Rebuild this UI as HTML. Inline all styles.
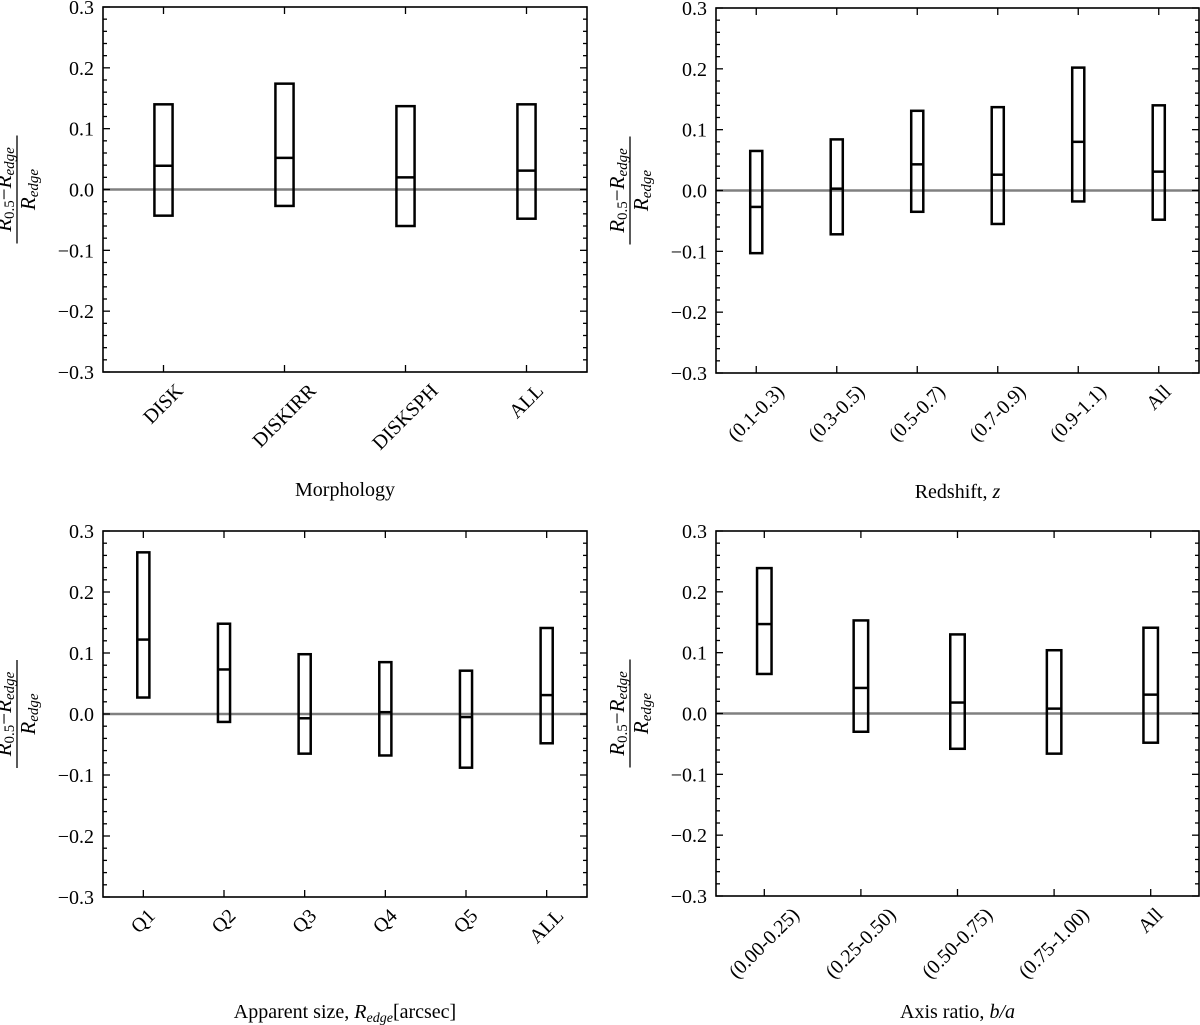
<!DOCTYPE html>
<html><head><meta charset="utf-8"><style>
html,body{margin:0;padding:0;background:#fff}
svg{display:block}
text{font-family:"Liberation Serif","DejaVu Serif",serif;fill:#000}
</style></head><body>
<svg id="fig" width="1200" height="1025" viewBox="0 0 1200 1025" xmlns="http://www.w3.org/2000/svg"></svg>
<script>
// Panel 1: Morphology
const morphCats = ["DISK","DISKIRR","DISKSPH","ALL"];
const morphTop = [0.140,0.174,0.137,0.140];
const morphMed = [0.039,0.052,0.020,0.031];
const morphBot = [-0.043,-0.027,-0.060,-0.048];
// Panel 2: Redshift
const zCats = ["(0.1-0.3)","(0.3-0.5)","(0.5-0.7)","(0.7-0.9)","(0.9-1.1)","All"];
const zTop = [0.065,0.084,0.131,0.137,0.202,0.140];
const zMed = [-0.027,0.003,0.043,0.026,0.080,0.031];
const zBot = [-0.103,-0.072,-0.035,-0.055,-0.018,-0.048];
// Panel 3: Apparent size
const sizeCats = ["Q1","Q2","Q3","Q4","Q5","ALL"];
const sizeTop = [0.265,0.148,0.098,0.085,0.071,0.141];
const sizeMed = [0.122,0.073,-0.007,0.003,-0.005,0.031];
const sizeBot = [0.027,-0.013,-0.065,-0.068,-0.088,-0.048];
// Panel 4: Axis ratio
const baCats = ["(0.00-0.25)","(0.25-0.50)","(0.50-0.75)","(0.75-1.00)","All"];
const baTop = [0.239,0.153,0.130,0.104,0.141];
const baMed = [0.147,0.042,0.018,0.008,0.031];
const baBot = [0.065,-0.030,-0.058,-0.066,-0.048];
// y ticks
const yTicks = [0.3,0.2,0.1,0.0,-0.1,-0.2,-0.3];
const yTickLabels = ["0.3","0.2","0.1","0.0","\u22120.1","\u22120.2","\u22120.3"];

const NS="http://www.w3.org/2000/svg";
const svg=document.getElementById('fig');
function mk(tag,attrs,parent){const e=document.createElementNS(NS,tag);for(const k in attrs)e.setAttribute(k,attrs[k]);(parent||svg).appendChild(e);return e;}

const panels=[
 {id:'morphology',x0:103,x1:587,y0:7,y1:372,cats:morphCats,top:morphTop,med:morphMed,bot:morphBot,title:['Morphology',''],ty:496},
 {id:'redshift',x0:716,x1:1199,y0:8,y1:373,cats:zCats,top:zTop,med:zMed,bot:zBot,title:['Redshift,  ','z'],ty:498},
 {id:'apparent-size',x0:103,x1:587,y0:531,y1:897,cats:sizeCats,top:sizeTop,med:sizeMed,bot:sizeBot,title:['Apparent size,  ','R','edge','[arcsec]'],ty:1018},
 {id:'axis-ratio',x0:716,x1:1199,y0:531,y1:896,cats:baCats,top:baTop,med:baMed,bot:baBot,title:['Axis ratio,  ','b/a'],ty:1018}
];

panels.forEach(p=>{
  const g=mk('g',{});
  
  
  const n=p.cats.length;
  const xs=i=>p.x0+(i+0.5)/n*(p.x1-p.x0);
  const ys=v=>p.y0+(0.3-v)/0.6*(p.y1-p.y0);
  const bw=0.15*(p.x1-p.x0)/n;
  const zl=mk('line',{x1:p.x0,x2:p.x1,y1:ys(0),y2:ys(0),stroke:'#808080','stroke-width':2.5},g);
  
  
  for(let i=0;i<n;i++){
    const r=mk('rect',{x:xs(i)-bw/2,y:ys(p.top[i]),width:bw,height:ys(p.bot[i])-ys(p.top[i]),fill:'none',stroke:'#000','stroke-width':2.5},g);
    
    
    const m=mk('line',{x1:xs(i)-bw/2,x2:xs(i)+bw/2,y1:ys(p.med[i]),y2:ys(p.med[i]),stroke:'#000','stroke-width':2.5},g);
    
    
  }
  for(let k=-15;k<=15;k++){
    const v=k*0.02, y=ys(v);
    const major=(k%5===0);
    const L=major?7:4;
    mk('line',{x1:p.x0,x2:p.x0+L,y1:y,y2:y,stroke:'#000','stroke-width':1.3},g);
    mk('line',{x1:p.x1,x2:p.x1-L,y1:y,y2:y,stroke:'#000','stroke-width':1.3},g);
  }
  yTicks.forEach((v,i)=>{
    const t=mk('text',{x:p.x0-9,y:ys(v)+7,'text-anchor':'end','font-size':20},g);
    t.textContent=yTickLabels[i];
    
    
  });
  for(let i=0;i<n;i++){
    const x=xs(i);
    mk('line',{x1:x,x2:x,y1:p.y1,y2:p.y1-7,stroke:'#000','stroke-width':1.3},g);
    mk('line',{x1:x,x2:x,y1:p.y0,y2:p.y0+7,stroke:'#000','stroke-width':1.3},g);
    const t=mk('text',{'text-anchor':'middle','font-size':20,'dominant-baseline':'central'},g);
    t.textContent=p.cats[i];
    
    
    const w=t.getComputedTextLength()||p.cats[i].length*10;
    const h=(w+16)*0.7071;
    const cy=p.y1+10+h/2;
    t.setAttribute('x',x);t.setAttribute('y',cy);
    t.setAttribute('transform','rotate(-45 '+x+' '+cy+')');
  }
  const fr=mk('rect',{x:p.x0,y:p.y0,width:p.x1-p.x0,height:p.y1-p.y0,fill:'none',stroke:'#000','stroke-width':1.6},g);
  
  
  const tt=mk('text',{x:(p.x0+p.x1)/2,y:p.ty,'text-anchor':'middle','font-size':20},g);
  
  
  const T=p.title;
  const s1=mk('tspan',{},tt);s1.textContent=T[0];
  if(T.length===2&&T[1]){const s=mk('tspan',{'font-style':'italic'},tt);s.textContent=T[1];}
  if(T.length===4){
    const a=mk('tspan',{'font-style':'italic'},tt);a.textContent=T[1];
    const b=mk('tspan',{'font-style':'italic','font-size':14,dy:4},tt);b.textContent=T[2];
    const c=mk('tspan',{dy:-4},tt);c.textContent=T[3];
  }
  const cx=p.x0-86, cy=ys(0);
  const yl=mk('g',{transform:'translate('+cx+' '+cy+') rotate(-90)'},g);
  
  
  mk('line',{x1:-54,x2:54,y1:0,y2:0,stroke:'#000','stroke-width':1.3},yl);
  const num=mk('text',{x:0,y:-6,'text-anchor':'middle','font-size':21},yl);
  const n1=mk('tspan',{'font-style':'italic'},num);n1.textContent='R';
  const n2=mk('tspan',{'font-size':15,dy:3},num);n2.textContent='0.5';
  const n3=mk('tspan',{dy:-3},num);n3.textContent='\u2212';
  const n4=mk('tspan',{'font-style':'italic'},num);n4.textContent='R';
  const n5=mk('tspan',{'font-style':'italic','font-size':15,dy:3},num);n5.textContent='edge';
  const den=mk('text',{x:0,y:18,'text-anchor':'middle','font-size':21},yl);
  const d1=mk('tspan',{'font-style':'italic'},den);d1.textContent='R';
  const d2=mk('tspan',{'font-style':'italic','font-size':15,dy:3},den);d2.textContent='edge';
});
</script>
</body></html>
